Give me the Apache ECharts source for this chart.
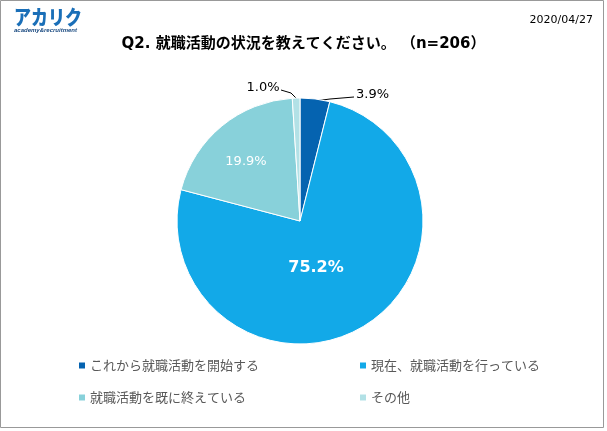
<!DOCTYPE html>
<html><head><meta charset="utf-8">
<script src="https://cdn.jsdelivr.net/npm/echarts@6/dist/echarts.min.js"></script>
<style>html,body{margin:0;padding:0;background:#fff}#c{width:607px;height:431px}</style>
</head><body><div id="c"></div>
<script>
const categories = ['これから就職活動を開始する','現在、就職活動を行っている','就職活動を既に終えている','その他'];
const values = [3.9, 75.2, 19.9, 1.0];
const colors = ['#0563b0','#12a9e8','#88d1da','#b2e1e6'];
const titleText = 'Q2. 就職活動の状況を教えてください。 （n=206）';
const dateText = '2020/04/27';

const chart = echarts.init(document.getElementById('c'), null, {renderer:'canvas'});
const font = '"Noto Sans CJK JP", "Noto Sans", sans-serif';
const latinFont = '"DejaVu Sans", "Noto Sans CJK JP", sans-serif';
const legendPos = [[77,359],[358,359],[77,391],[358,391]];
const option = {
  animation:false,
  color: colors,
  title: {text:titleText, left:'center', top:37, padding:0, textStyle:{fontFamily:latinFont, fontSize:15, fontWeight:'bold', color:'#000'}},
  graphic: [
    {type:'rect', shape:{x:0.5,y:0.5,width:603,height:427}, style:{fill:'none', stroke:'#999', lineWidth:1}},
    {type:'text', left:14, top:7, scaleX:0.85, style:{text:'アカリク', font:'900 20px '+font, fill:'#1a6fb8'}},
    {type:'text', left:14, top:27, style:{text:'academy&recruitment', font:'bold italic 6px sans-serif', fill:'#1a4a80'}},
    {type:'text', right:14, top:15, style:{text:dateText, font:'11px '+latinFont, fill:'#000'}}
  ],
  legend: legendPos.map((p,i)=>({data:[categories[i]], left:p[0], top:p[1], padding:0, itemWidth:8, itemHeight:8, icon:'rect', itemGap:6,
    textStyle:{fontFamily:font, fontSize:13, color:'#595959', padding:[0,0,0,-1]}})),
  series:[{
    type:'pie', center:[300,221], radius:[0,123], startAngle:90, clockwise:true,
    data: categories.map((n,i)=>{
      const d = {name:n, value:values[i]};
      if(i===1) d.label={position:'inside', color:'#fff', fontSize:16, fontWeight:'bold'};
      if(i===2) d.label={position:'inside', color:'#fff', fontSize:13};
      return d;
    }),
    label:{show:true, position:'outside', formatter:p=>p.value.toFixed(1)+'%', fontFamily:latinFont, fontSize:13, color:'#000'},
    labelLine:{show:true, length:8, length2:30, smooth:false, lineStyle:{color:'#000', width:1}},
    labelLayout: function(params){
      if(params.dataIndex===0) return {x:356, y:95, align:'left', verticalAlign:'middle', labelLinePoints:[[315,101],[330,99],[354,97]]};
      if(params.dataIndex===3) return {x:263, y:88, align:'center', verticalAlign:'middle', labelLinePoints:[[297,99],[291,93],[281,90]]};
      if(params.dataIndex===1) return {x:316, y:268, align:'center', verticalAlign:'middle'};
      if(params.dataIndex===2) return {x:246, y:162, align:'center', verticalAlign:'middle'};
    },
    itemStyle:{borderColor:'#fff', borderWidth:1}
  }]
};
chart.setOption(option);
</script></body></html>
